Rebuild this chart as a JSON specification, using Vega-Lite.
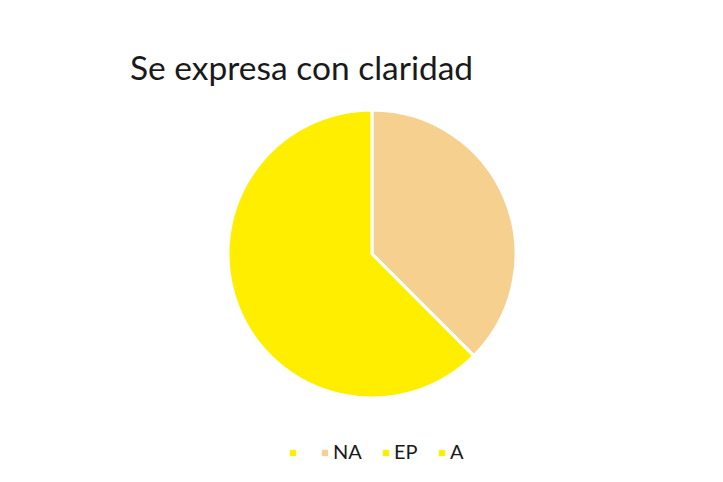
{
  "$schema": "https://vega.github.io/schema/vega-lite/v6.json",
  "width": 744,
  "height": 288,
  "autosize": "none",
  "padding": {"top": 110, "left": 0, "right": 0, "bottom": 84},
  "background": "white",
  "view": {"stroke": null},
  "title": {
    "text": "Se expresa con claridad",
    "anchor": "start",
    "frame": "group",
    "dx": 130,
    "dy": 37,
    "offset": 28,
    "baseline": "alphabetic",
    "font": "Lato",
    "fontSize": 33.5,
    "fontWeight": "normal",
    "color": "#1a1a1a"
  },
  "data": {
    "values": [
      {"categoria": " ", "valor": 0},
      {"categoria": "NA", "valor": 3},
      {"categoria": "EP", "valor": 0},
      {"categoria": "A", "valor": 5}
    ]
  },
  "mark": {"type": "arc", "outerRadius": 144, "stroke": "white", "strokeWidth": 3},
  "encoding": {
    "theta": {"field": "valor", "type": "quantitative", "stack": true},
    "color": {
      "field": "categoria",
      "type": "nominal",
      "sort": null,
      "scale": {
        "domain": [" ", "NA", "EP", "A"],
        "range": ["#FFEE00", "#F5D08F", "#FFEE00", "#FFEE00"]
      },
      "legend": {
        "title": null,
        "orient": "none",
        "direction": "horizontal",
        "legendX": 283,
        "legendY": 333,
        "symbolType": "square",
        "symbolSize": 40,
        "symbolStrokeWidth": 0,
        "labelFont": "Lato",
        "labelFontSize": 20,
        "labelColor": "#1a1a1a",
        "labelOffset": -2,
        "columnPadding": 14
      }
    },
    "order": {"field": "categoria", "sort": "descending"}
  }
}
